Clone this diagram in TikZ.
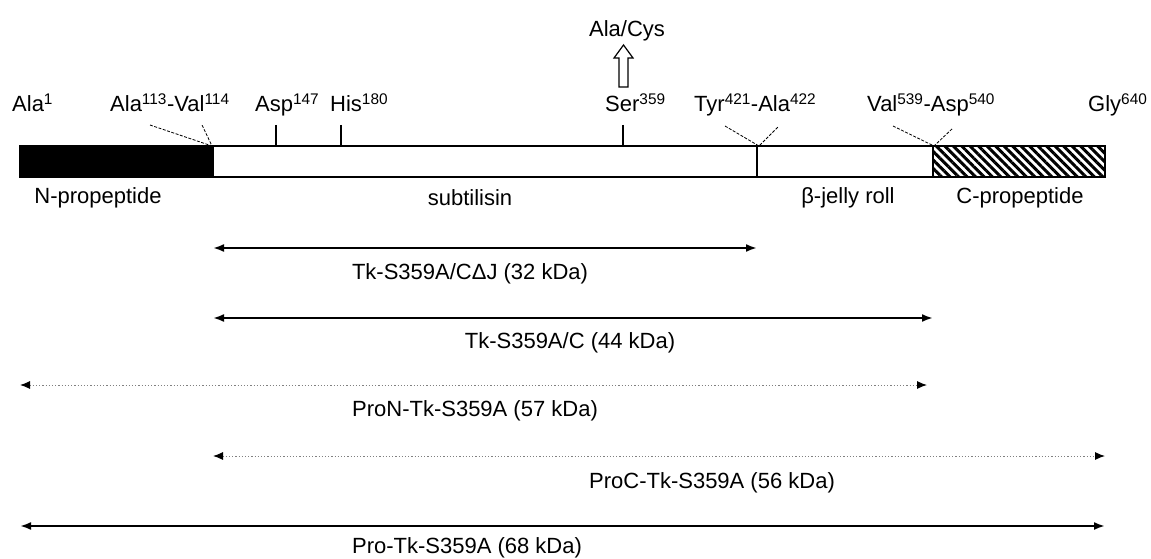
\documentclass[tikz,border=0pt]{standalone}
\usepackage{fontspec}
\setmainfont{Liberation Sans}
\usetikzlibrary{arrows.meta,patterns.meta}
\begin{document}
\begin{tikzpicture}[x=1pt,y=-1pt,
  lbl/.style={font=\fontsize{22}{26}\selectfont, inner sep=0pt},
  tickline/.style={line width=1.6pt},
  cutline/.style={line width=0.8pt, dash pattern=on 3pt off 1.5pt},
  seg/.style={line width=1.5pt},
  span/.style={line width=2pt, {Latex[length=11pt,width=8pt]}-{Latex[length=11pt,width=8pt]}},
  dspan/.style={line width=1pt, gray, dash pattern=on 1.2pt off 2pt,
    {Latex[length=10pt,width=8pt,black]}-{Latex[length=10pt,width=8pt,black]}}
]
\useasboundingbox (0,0) rectangle (1151,559);

% ---- bar ----
\coordinate (nA) at (20,146);   \coordinate (nB) at (213,177);
\coordinate (sA) at (213,146);  \coordinate (sB) at (933,177);
\coordinate (jA) at (757,146);  \coordinate (jB) at (757,177);
\coordinate (cA) at (933,146);  \coordinate (cB) at (1105,177);
\draw[seg, fill=black] (nA) rectangle (nB);
\draw[seg] (sA) rectangle (sB);
\draw[seg] (jA) -- (jB);
\draw[seg, pattern={Lines[angle=-45,distance=6pt,line width=3pt]}] (cA) rectangle (cB);

% ---- labels above ----
\node[lbl, anchor=base west] (ala1) at (12,112) {Ala\textsuperscript{1}};
\node[lbl, anchor=base west] (ala113) at (110,112) {Ala\textsuperscript{113}-Val\textsuperscript{114}};
\node[lbl, anchor=base west] (asp) at (255,112) {Asp\textsuperscript{147}};
\node[lbl, anchor=base west] (his) at (330,112) {His\textsuperscript{180}};
\node[lbl, anchor=base west] (ser) at (605,112) {Ser\textsuperscript{359}};
\node[lbl, anchor=base west] (tyr) at (694,112) {Tyr\textsuperscript{421}-Ala\textsuperscript{422}};
\node[lbl, anchor=base west] (val) at (867,112) {Val\textsuperscript{539}-Asp\textsuperscript{540}};
\node[lbl, anchor=base west] (gly) at (1088,112) {Gly\textsuperscript{640}};
\node[lbl, anchor=base] (alacys) at (627,37) {Ala/Cys};

% hollow arrow Ser -> Ala/Cys
\coordinate (ha) at (623.5,87);
\draw[line width=1.2pt, fill=white, shift={(ha)}]
  (-4.5,0) -- (-4.5,-29) -- (-9.5,-29) -- (0,-42) -- (9.5,-29) -- (4.5,-29) -- (4.5,0) -- cycle;

% ticks
\coordinate (t1a) at (276,125); \coordinate (t1b) at (276,146);
\coordinate (t2a) at (341,125); \coordinate (t2b) at (341,146);
\coordinate (t3a) at (623,125); \coordinate (t3b) at (623,146);
\draw[tickline] (t1a) -- (t1b);
\draw[tickline] (t2a) -- (t2b);
\draw[tickline] (t3a) -- (t3b);

% cleavage site pointers
\coordinate (p1a) at (150,125); \coordinate (p1b) at (202,125); \coordinate (p1) at (212,146);
\coordinate (p2a) at (725,126); \coordinate (p2b) at (778,127); \coordinate (p2) at (759,146);
\coordinate (p3a) at (893,126); \coordinate (p3b) at (953,128); \coordinate (p3) at (934,146);
\draw[cutline] (p1a) -- (p1) -- (p1b);
\draw[cutline] (p2a) -- (p2) -- (p2b);
\draw[cutline] (p3a) -- (p3) -- (p3b);

% ---- labels below bar ----
\node[lbl] (lnp) at (98,198) {N-propeptide};
\node[lbl] (lsub) at (470,198) {subtilisin};
\node[lbl] (ljr) at (848,198) {β-jelly roll};
\node[lbl] (lcp) at (1020,198) {C-propeptide};

% ---- constructs ----
\coordinate (a1l) at (213,248); \coordinate (a1r) at (757,248);
\coordinate (a2l) at (213,318); \coordinate (a2r) at (933,318);
\coordinate (a3l) at (20,385);  \coordinate (a3r) at (927,385);
\coordinate (a4l) at (213,456); \coordinate (a4r) at (1105,456);
\coordinate (a5l) at (20,526);  \coordinate (a5r) at (1105,526);
\draw[span] (a1l) -- (a1r);
\draw[span] (a2l) -- (a2r);
\draw[dspan] (a3l) -- (a3r);
\draw[dspan] (a4l) -- (a4r);
\draw[span] (a5l) -- (a5r);

\node[lbl] (l1) at (470,274) {Tk-S359A/CΔJ (32 kDa)};
\node[lbl] (l2) at (570,343) {Tk-S359A/C (44 kDa)};
\node[lbl] (l3) at (475,411) {ProN-Tk-S359A (57 kDa)};
\node[lbl] (l4) at (712,483) {ProC-Tk-S359A (56 kDa)};
\node[lbl] (l5) at (467,548) {Pro-Tk-S359A (68 kDa)};
\end{tikzpicture}
\end{document}
